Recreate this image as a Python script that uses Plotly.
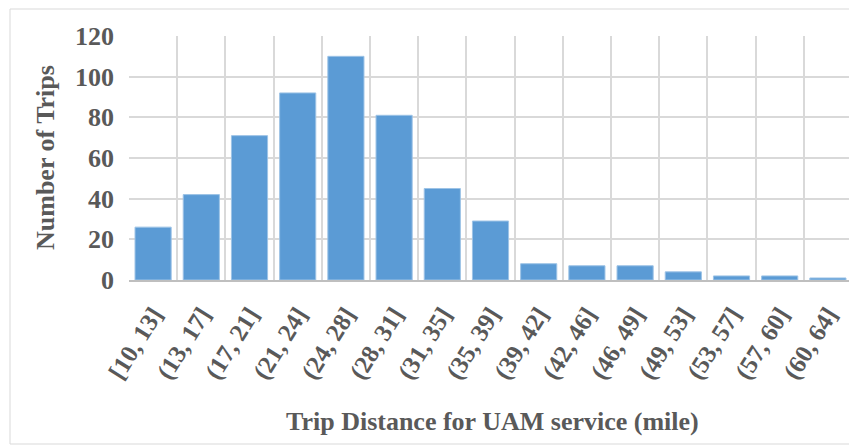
import plotly.graph_objects as go

categories = ["[10, 13]", "(13, 17]", "(17, 21]", "(21, 24]", "(24, 28]", "(28, 31]",
              "(31, 35]", "(35, 39]", "(39, 42]", "(42, 46]", "(46, 49]", "(49, 53]",
              "(53, 57]", "(57, 60]", "(60, 64]"]
trips = [26, 42, 71, 92, 110, 81, 45, 29, 8, 7, 7, 4, 2, 2, 1]
y_ticks = [0, 20, 40, 60, 80, 100, 120]

OFF = 8  # page body margin
W, H = 857 - OFF, 445 - OFF
# target plot area in page pixels: x 129..852, y 36..280
L, T = 129 - OFF, 36 - OFF
R = W - (852 - OFF)
B = H - (280 - OFF)
pw, ph = W - L - R, H - T - B

def px(x):
    return (x - OFF - L) / pw

def py(y):
    return (H - B - (y - OFF)) / ph

font = "Liberation Serif"
grey = "#595959"

fig = go.Figure(go.Bar(
    x=categories, y=trips,
    marker=dict(color="#5B9BD5", line=dict(color="#9DC3E6", width=1)),
))

fig.update_layout(
    width=W, height=H,
    margin=dict(l=L, r=R, t=T, b=B),
    plot_bgcolor="white", paper_bgcolor="white",
    bargap=0.25,
    showlegend=False,
    font=dict(family=font, color=grey),
    xaxis=dict(
        type="category",
        automargin=False,
        tickson="boundaries",
        showgrid=True, gridcolor="#D9D9D9", gridwidth=2,
        tickangle=-58,
        tickfont=dict(family=font, size=25, color=grey, weight="bold"),
        ticklabelstandoff=8,
        showline=True, linecolor="#BFBFBF", linewidth=2,
        ticks="",
        mirror=False,
    ),
    yaxis=dict(
        automargin=False,
        range=[0, 120], tickvals=y_ticks,
        showgrid=True, gridcolor="#D9D9D9", gridwidth=2,
        zeroline=False,
        tickfont=dict(family=font, size=26, color=grey, weight="bold"),
        ticklabelstandoff=14,
        ticks="", ticklen=0,
    ),
    annotations=[
        dict(text="<b>Trip Distance for UAM service (mile)</b>", xref="paper", yref="paper",
             x=px(492), y=py(422), showarrow=False, xanchor="center", yanchor="middle",
             font=dict(family=font, size=26, color=grey)),
        dict(text="<b>Number of Trips</b>", xref="paper", yref="paper",
             x=px(45), y=py(158), showarrow=False, xanchor="center", yanchor="middle",
             textangle=-90, font=dict(family=font, size=26, color=grey)),
    ],
    shapes=[
        dict(type="rect", xref="paper", yref="paper",
             x0=px(852), x1=px(852), y0=0, y1=1,
             line=dict(color="#D9D9D9", width=2)),
        dict(type="rect", xref="paper", yref="paper",
             x0=px(10), x1=px(856), y0=py(9), y1=py(444),
             line=dict(color="#D9D9D9", width=1), layer="below"),
    ],
)

fig.write_html("out.html")
